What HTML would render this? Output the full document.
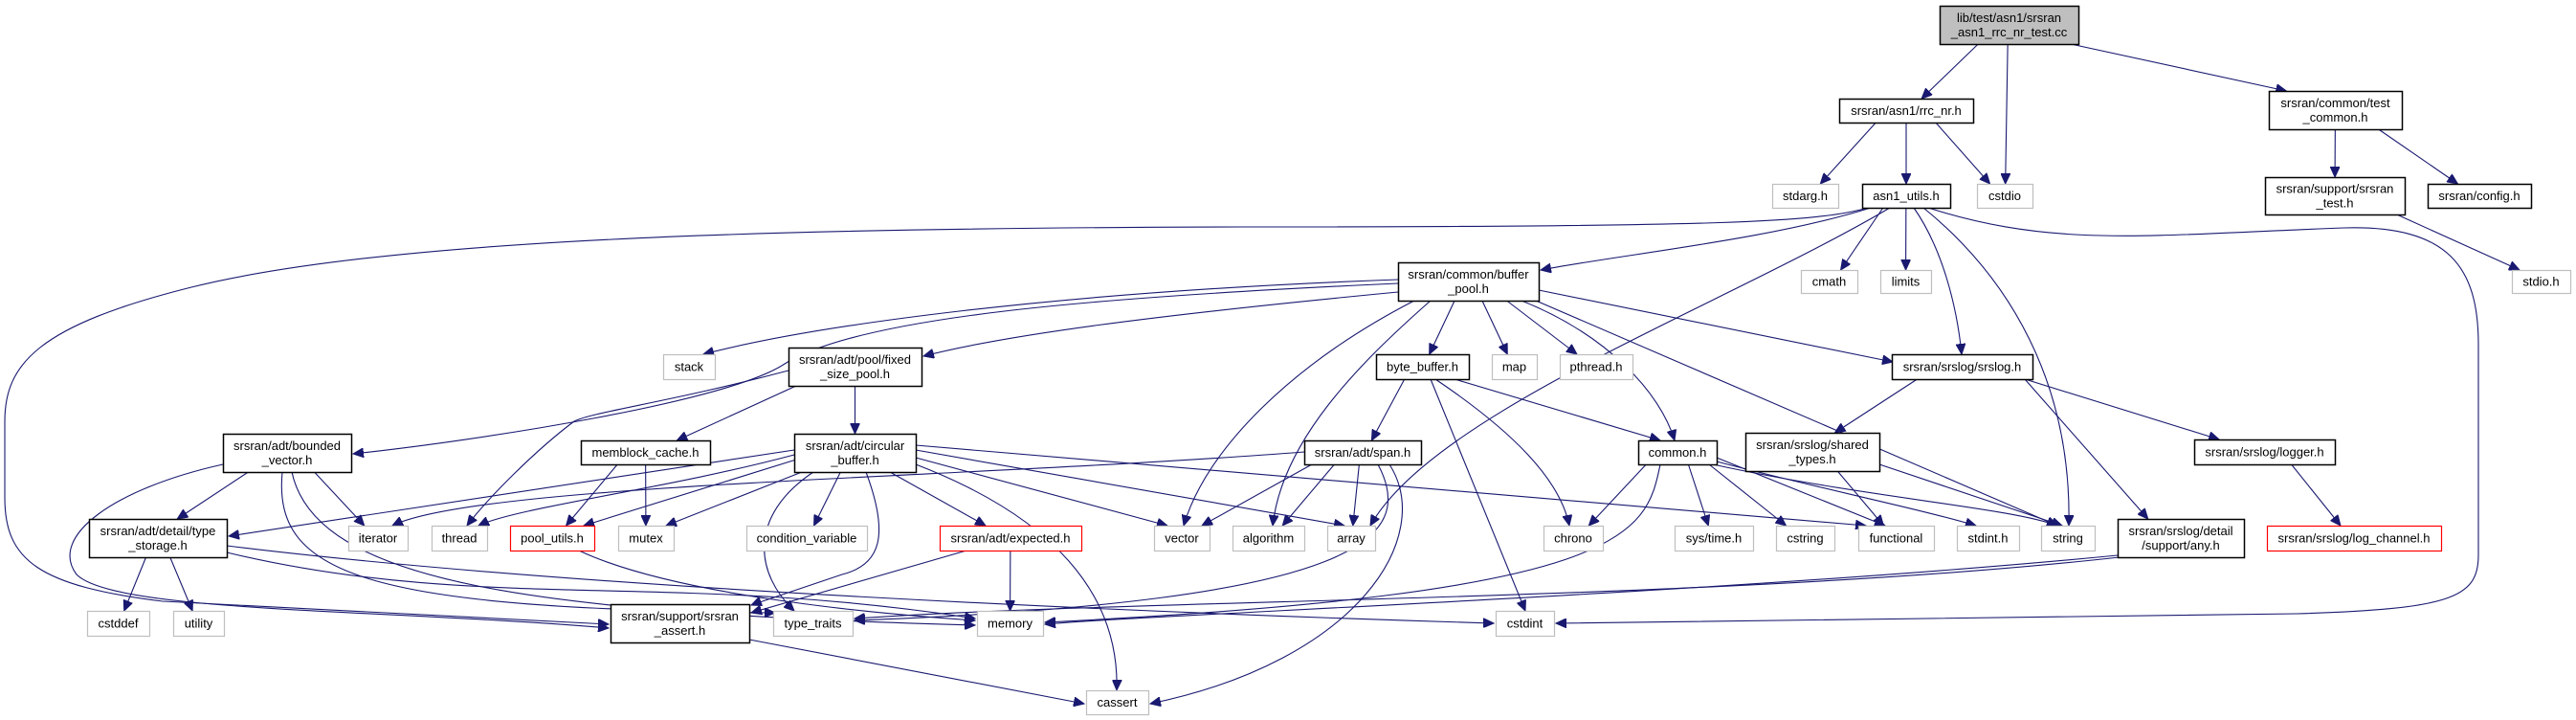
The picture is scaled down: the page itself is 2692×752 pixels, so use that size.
<!DOCTYPE html>
<html><head><meta charset="utf-8"><style>
html,body{margin:0;padding:0;background:#fff;}
svg{display:block;}
text{font-family:"Liberation Sans",Arial,sans-serif;font-size:13px;fill:#000;}
</style></head><body>
<svg id="s" width="2692" height="752" viewBox="0 0 2692 752" xmlns="http://www.w3.org/2000/svg">
<defs><marker id="a" markerUnits="userSpaceOnUse" markerWidth="12" markerHeight="10" refX="11" refY="5" orient="auto"><path d="M0,0 L11,5 L0,10 z" fill="#191970" stroke="#191970"/></marker></defs>
<g id="edges" fill="none" stroke="#191970" stroke-width="1.1"></g>
<g id="nodes"></g>
</svg>
<script>
var N={
root:[2027,6,2172,46,"lib/test/asn1/srsran|_asn1_rrc_nr_test.cc","g"],
rrc:[1922,103,2062,128,"srsran/asn1/rrc_nr.h","b"],
tc:[2371,95,2510,135,"srsran/common/test|_common.h","b"],
stdarg:[1852,192,1921,217,"stdarg.h","l"],
asn1:[1946,192,2038,217,"asn1_utils.h","b"],
cstdio:[2066,192,2124,217,"cstdio","l"],
stest:[2367,185,2513,224,"srsran/support/srsran|_test.h","b"],
config:[2537,192,2645,217,"srsran/config.h","b"],
cmath:[1882,282,1941,306,"cmath","l"],
limits:[1965,282,2018,306,"limits","l"],
stdio:[2625,282,2686,306,"stdio.h","l"],
bp:[1461,274,1608,314,"srsran/common/buffer|_pool.h","b"],
stack:[693,370,747,396,"stack","l"],
fsp:[824,363,963,403,"srsran/adt/pool/fixed|_size_pool.h","b"],
bb:[1438,370,1535,396,"byte_buffer.h","b"],
map:[1559,370,1606,396,"map","l"],
pthread:[1630,370,1706,396,"pthread.h","l"],
srslog:[1977,370,2124,396,"srsran/srslog/srslog.h","b"],
bv:[233,453,367,493,"srsran/adt/bounded|_vector.h","b"],
memblock:[607,460,742,485,"memblock_cache.h","b"],
cb:[830,453,957,493,"srsran/adt/circular|_buffer.h","b"],
span:[1363,460,1485,485,"srsran/adt/span.h","b"],
common:[1712,460,1794,485,"common.h","b"],
shared:[1824,452,1964,492,"srsran/srslog/shared|_types.h","b"],
logger:[2293,459,2440,485,"srsran/srslog/logger.h","b"],
ts:[93,542,237,582,"srsran/adt/detail/type|_storage.h","b"],
iterator:[364,549,426,575,"iterator","l"],
thread:[451,549,509,575,"thread","l"],
poolutils:[533,549,621,575,"pool_utils.h","r"],
mutex:[646,549,704,575,"mutex","l"],
condvar:[780,549,906,575,"condition_variable","l"],
expected:[982,549,1130,575,"srsran/adt/expected.h","r"],
vector:[1206,549,1264,575,"vector","l"],
algorithm:[1288,549,1363,575,"algorithm","l"],
array:[1387,549,1437,575,"array","l"],
chrono:[1613,549,1675,575,"chrono","l"],
systime:[1750,549,1832,575,"sys/time.h","l"],
cstring:[1856,549,1917,575,"cstring","l"],
functional:[1942,549,2021,575,"functional","l"],
stdint:[2045,549,2110,575,"stdint.h","l"],
string:[2133,549,2189,575,"string","l"],
any:[2213,542,2345,582,"srsran/srslog/detail|/support/any.h","b"],
logch:[2369,549,2551,575,"srsran/srslog/log_channel.h","r"],
cstddef:[91,638,156,664,"cstddef","l"],
utility:[181,638,234,664,"utility","l"],
assert:[638,631,783,671,"srsran/support/srsran|_assert.h","b"],
typetraits:[808,638,891,664,"type_traits","l"],
memory:[1021,638,1090,664,"memory","l"],
cstdint:[1563,638,1624,664,"cstdint","l"],
cassert:[1135,721,1200,746,"cassert","l"]
};
var E=[
["root","rrc"],["root","cstdio"],["root","tc"],
["rrc","stdarg"],["rrc","asn1"],["rrc","cstdio"],
["tc","stest"],["tc","config"],["stest","stdio"],
["asn1","bp","M1955,217 C1850,250 1700,265 1610,282"],
["asn1","cmath"],["asn1","limits"],["asn1","srslog","M2000,217 C2030,260 2045,320 2050,370"],
["asn1","string","M2010,217 C2100,290 2165,400 2162,549"],
["asn1","array","M1975,217 C1800,320 1500,430 1432,549"],
["asn1","assert","M1952,217 C1900,232 1800,237 1300,237 C800,238 400,250 200,300 C40,340 5,380 5,440 L5,520 C5,585 40,612 170,628 L636,652"],
["asn1","cstdint","M2015,217 C2150,260 2250,245 2450,238 C2560,235 2590,280 2590,360 L2590,580 C2590,625 2560,636 2400,641 L1626,651"],
["bp","stack","M1461,292 C1100,305 850,340 735,370"],
["bp","fsp","M1461,305 C1200,330 1050,350 965,372"],
["bp","bv","M1461,296 C1150,310 900,330 820,380 C760,420 500,460 369,474"],
["bp","vector","M1478,314 C1350,380 1260,470 1237,549"],
["bp","algorithm","M1495,314 C1420,380 1340,460 1330,549"],
["bp","bb"],["bp","map"],["bp","pthread"],
["bp","common","M1590,314 C1680,350 1735,410 1750,460"],
["bp","srslog","M1608,303 L1978,378"],
["bp","string","M1605,314 L2150,549"],
["fsp","thread","M824,387 C700,420 620,430 600,440 C560,470 510,520 488,549"],
["fsp","memblock"],["fsp","cb"],
["bb","span"],["bb","cstdint","M1495,396 L1594,638"],
["bb","chrono","M1500,396 C1580,450 1630,500 1640,549"],
["bb","common","M1520,396 L1735,460"],
["span","vector"],["span","algorithm"],["span","array"],
["span","iterator","M1363,472 C1000,500 500,505 410,549"],
["span","typetraits","M1440,485 C1480,560 1430,628 893,648"],
["span","cassert","M1452,485 C1500,560 1420,690 1202,735"],
["cb","ts","M830,470 L239,560"],
["cb","thread","M830,475 C700,510 540,530 500,549"],
["cb","poolutils","M832,480 L610,549"],
["cb","mutex"],["cb","condvar"],
["cb","expected","M930,493 L1030,549"],
["cb","vector","M957,478 L1220,549"],
["cb","array","M957,470 L1405,549"],
["cb","functional","M957,465 L1950,549"],
["cb","cassert","M957,485 C1100,540 1170,620 1167,721"],
["cb","typetraits","M850,493 C780,540 790,600 830,638"],
["cb","assert","M905,493 C930,560 920,590 880,600 C820,620 790,630 785,632"],
["memblock","poolutils"],["memblock","mutex"],
["poolutils","memory","M605,575 C700,620 900,640 1019,648"],
["bv","ts"],["bv","iterator"],
["bv","assert","M233,485 C120,510 50,560 80,600 C120,640 400,636 636,656"],
["bv","typetraits","M295,493 C285,600 380,636 810,640"],
["bv","memory","M305,493 C330,610 560,640 1019,653"],
["ts","cstddef"],["ts","utility"],
["ts","cstdint","M237,570 C600,615 1200,640 1561,651"],
["ts","memory","M237,577 C500,640 700,596 1019,646"],
["expected","memory"],["expected","assert","M1010,575 L785,640"],
["assert","cassert","M783,668 L1133,735"],
["common","chrono"],["common","systime"],["common","cstring"],
["common","functional","M1794,478 L1970,549"],["common","stdint","M1794,482 C1900,510 2000,530 2065,549"],
["common","string","M1790,485 C1950,520 2100,530 2150,549"],
["common","memory","M1735,485 C1720,560 1700,620 1092,650"],
["shared","functional"],["shared","string","M1964,485 L2155,549"],
["srslog","shared"],["srslog","any"],["srslog","logger"],
["logger","logch"],
["any","memory","M2213,580 C1800,620 1200,642 1092,652"],
["any","typetraits","M2215,582 C1800,628 1200,625 893,646"]
];
var ns="http://www.w3.org/2000/svg",eg=document.getElementById("edges"),ng=document.getElementById("nodes");
function el(t,a,p){var e=document.createElementNS(ns,t);for(var k in a)e.setAttribute(k,a[k]);p.appendChild(e);return e;}
E.forEach(function(e){var d=e[2];if(!d){var s=N[e[0]],t=N[e[1]];var scx=(s[0]+s[2])/2,tcx=(t[0]+t[2])/2;
var sx=Math.max(s[0]+8,Math.min(s[2]-8,scx+(tcx-scx)*0.3));var sy=s[3];var ex=Math.max(t[0]+8,Math.min(t[2]-8,tcx+(scx-tcx)*0.15));var ey=t[1];
d="M"+sx+","+sy+" L"+ex+","+ey;}
el("path",{d:d,"marker-end":"url(#a)"},eg);});
for(var k in N){var n=N[k];var st=n[5]=="g"?["#bfbfbf","#000"]:n[5]=="b"?["#fff","#000"]:n[5]=="r"?["#fff","#ff0000"]:["#fff","#bfbfbf"];
el("rect",{x:n[0]+.5,y:n[1]+.5,width:n[2]-n[0],height:n[3]-n[1],fill:st[0],stroke:st[1],"stroke-width":n[5]=="b"||n[5]=="g"?1.5:1.2},ng);
var L=n[4].split("|"),cx=(n[0]+n[2])/2,cy=(n[1]+n[3])/2;
L.forEach(function(l,i){var t=el("text",{x:cx,y:cy+4.5+(i-(L.length-1)/2)*15,"text-anchor":"middle"},ng);t.textContent=l;});}
</script>
</body></html>
